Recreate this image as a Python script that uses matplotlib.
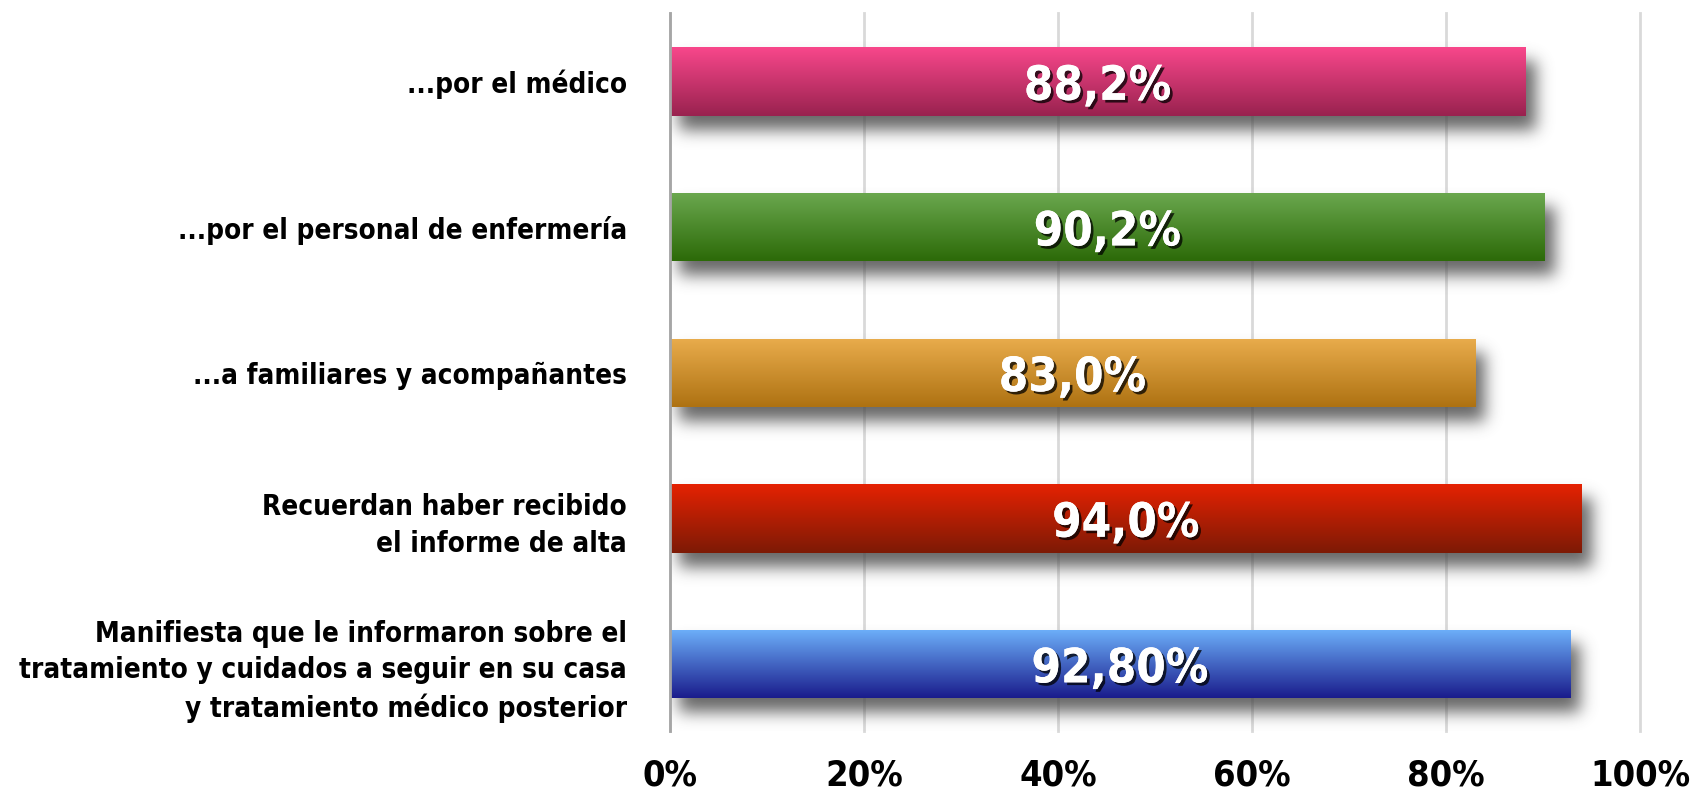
import numpy as np
import matplotlib
matplotlib.use("Agg")
import matplotlib.pyplot as plt
from matplotlib import patheffects as pe
from matplotlib.colors import to_rgb

categories = [
    "Manifiesta que le informaron sobre el\ntratamiento y cuidados a seguir en su casa\ny tratamiento médico posterior",
    "Recuerdan haber recibido\nel informe de alta",
    "...a familiares y acompañantes",
    "...por el personal de enfermería",
    "...por el médico",
]
values = [92.8, 94.0, 83.0, 90.2, 88.2]
value_labels = ["92,80%", "94,0%", "83,0%", "90,2%", "88,2%"]
top_colors = ["#6DB0FA", "#E52202", "#E9AC4C", "#6BA84F", "#F8478B"]
bottom_colors = ["#1A1C8C", "#7D1A06", "#AE7212", "#2C6A08", "#99224F"]
xticks = [0, 20, 40, 60, 80, 100]
xtick_labels = ["0%", "20%", "40%", "60%", "80%", "100%"]

plt.rcParams['font.family'] = ['DejaVu Sans']
FONT = dict(family='DejaVu Sans', fontstretch='condensed', fontweight='bold')

fig = plt.figure(figsize=(16.92, 7.92), dpi=100)
ax = fig.add_axes([670/1692, 1 - 731/792, (1640-670)/1692, (731-13)/792])

h = 0.47
ypos = np.arange(len(values))
XL = (0, 100)
YL = (-0.46, 4.47)
ax.set_xlim(*XL)
ax.set_ylim(*YL)

# gradient bars
bars = ax.barh(ypos, values, height=h, color='none', zorder=3)

# blurred drop shadows built from bar geometry in display space
W, H = 970, 718
mask = np.zeros((H, W))
dx, dy = 9, 14
for b in bars:
    (px0, py0), (px1, py1) = ax.transData.transform(
        [(b.get_x(), b.get_y()), (b.get_x() + b.get_width(), b.get_y() + b.get_height())])
    ax0, ay0 = ax.transAxes.transform((0, 0))
    c0 = int(round(px0 - ax0 + dx)); c1 = int(round(px1 - ax0 + dx))
    r_top = int(round(H - (max(py0, py1) - ay0) + dy))
    r_bot = int(round(H - (min(py0, py1) - ay0) + dy))
    mask[max(r_top, 0):min(r_bot, H), max(c0, 0):min(c1, W)] = 1.0
sig = 8
k = np.arange(-3 * sig, 3 * sig + 1)
g = np.exp(-k**2 / (2 * sig**2)); g /= g.sum()
mask = np.apply_along_axis(lambda m: np.convolve(m, g, mode='same'), 0, mask)
mask = np.apply_along_axis(lambda m: np.convolve(m, g, mode='same'), 1, mask)
shadow = np.zeros((H, W, 4))
shadow[..., :3] = 0.3
shadow[..., 3] = np.clip(mask * 0.85, 0, 1)
ax.imshow(shadow, extent=[XL[0], XL[1], YL[0], YL[1]], origin='upper',
          aspect='auto', zorder=2, interpolation='bilinear')

for b, tc, bc in zip(bars, top_colors, bottom_colors):
    t = np.array(to_rgb(tc)); bcol = np.array(to_rgb(bc))
    f = np.linspace(0, 1, 100)[:, None]
    grad = (t * (1 - f) + bcol * f)[:, None, :]
    x0, y0 = b.get_x(), b.get_y()
    w, hh = b.get_width(), b.get_height()
    im = ax.imshow(grad, extent=[x0, x0 + w, y0, y0 + hh], origin='upper',
                   aspect='auto', zorder=3, interpolation='bilinear')
    im.set_clip_path(b)

for y, v, lab in zip(ypos, values, value_labels):
    ax.text(v / 2, y - 0.04, lab, ha='center', va='center', color='white', fontsize=34,
            zorder=5, **FONT,
            path_effects=[pe.withSimplePatchShadow(offset=(2, -2), shadow_rgbFace='black', alpha=0.75),
                          pe.Normal()])

ax.set_xlim(*XL)
ax.set_ylim(*YL)
ax.set_xticks(xticks)
ax.set_xticklabels(xtick_labels, fontsize=26, **FONT)
ax.set_yticks(ypos)
ax.set_yticklabels(categories, fontsize=20, linespacing=1.38, **FONT)
ax.tick_params(axis='both', length=0)
ax.tick_params(axis='y', pad=31)
ax.tick_params(axis='x', pad=20)
ax.grid(axis='x', color='#D9D9D9', linewidth=2, zorder=0)
ax.set_axisbelow(True)
for line in ax.get_xgridlines():
    line.set_clip_on(False)
for s in ['top', 'right', 'bottom']:
    ax.spines[s].set_visible(False)
ax.spines['left'].set_color('#A6A6A6')
ax.spines['left'].set_linewidth(2)
ax.spines['left'].set_zorder(4)

fig.savefig("out.png", dpi=100)
